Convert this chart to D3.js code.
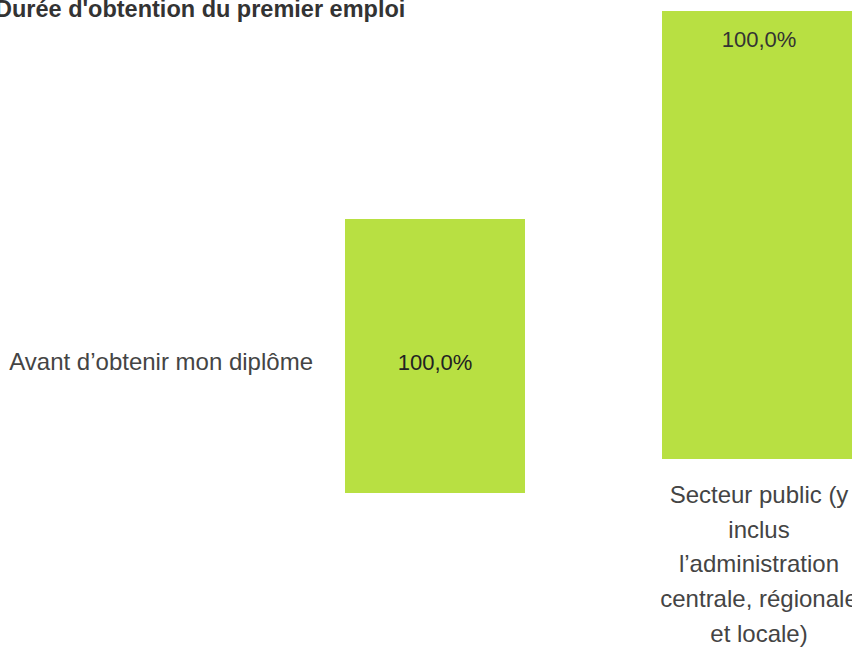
<!DOCTYPE html>
<html><head><meta charset="utf-8">
<script src="https://cdn.jsdelivr.net/npm/d3@7"></script>
<style>
html,body{margin:0;padding:0;background:#fff;overflow:hidden;}
svg{display:block;font-family:"Liberation Sans",Arial,sans-serif;}
</style></head>
<body>
<svg id="c" width="852" height="649"></svg>
<script>
const title = "Durée d'obtention du premier emploi";
const rowCategories = ["Avant d’obtenir mon diplôme"];
const rowValues = [100];
const colCategories = ["Secteur public (y inclus l’administration centrale, régionale et locale)"];
const colValues = [100];
const colLabelLines = [["Secteur public (y", "inclus", "l’administration", "centrale, régionale", "et locale)"]];
const barColor = "#b8e042";

const svg = d3.select("#c");
const fmt = v => d3.format(".1f")(v).replace(".", ",") + "%";

svg.append("text").attr("x", -5).attr("y", 17)
  .attr("font-size", 23.5).attr("font-weight", "bold").attr("fill", "#333")
  .text(title);

// Panel 1: horizontal bar
const y1 = d3.scaleBand().domain(rowCategories).range([219, 493]).padding(0);
const x1 = d3.scaleLinear().domain([0, 100]).range([345, 525]);
svg.selectAll(".hbar").data(rowValues).join("rect")
  .attr("x", x1(0)).attr("y", (d, i) => y1(rowCategories[i]))
  .attr("width", d => x1(d) - x1(0)).attr("height", y1.bandwidth())
  .attr("fill", barColor);
svg.selectAll(".hlab").data(rowValues).join("text")
  .attr("x", d => (x1(0) + x1(d)) / 2).attr("y", (d, i) => y1(rowCategories[i]) + y1.bandwidth() / 2 + 14)
  .attr("text-anchor", "middle").attr("font-size", 22).attr("fill", "#222")
  .text(d => fmt(d));
svg.selectAll(".rowcat").data(rowCategories).join("text")
  .attr("x", 313).attr("y", d => y1(d) + y1.bandwidth() / 2 + 14)
  .attr("text-anchor", "end").attr("font-size", 24).attr("fill", "#444")
  .text(d => d);

// Panel 2: vertical bar
const x2 = d3.scaleBand().domain(colCategories).range([662, 856]).padding(0);
const y2 = d3.scaleLinear().domain([0, 100]).range([459, 11]);
svg.selectAll(".vbar").data(colValues).join("rect")
  .attr("x", (d, i) => x2(colCategories[i])).attr("y", d => y2(d))
  .attr("width", x2.bandwidth()).attr("height", d => y2(0) - y2(d))
  .attr("fill", barColor);
svg.selectAll(".vlab").data(colValues).join("text")
  .attr("x", (d, i) => x2(colCategories[i]) + x2.bandwidth() / 2).attr("y", d => y2(d) + 36)
  .attr("text-anchor", "middle").attr("font-size", 22).attr("fill", "#333")
  .text(d => fmt(d));
colCategories.forEach((c, i) => {
  const t = svg.append("text").attr("text-anchor", "middle").attr("font-size", 24).attr("fill", "#444");
  colLabelLines[i].forEach((ln, j) => {
    t.append("tspan").attr("x", x2(c) + x2.bandwidth() / 2).attr("y", 503 + j * 34.7).text(ln);
  });
});
</script>
</body></html>
